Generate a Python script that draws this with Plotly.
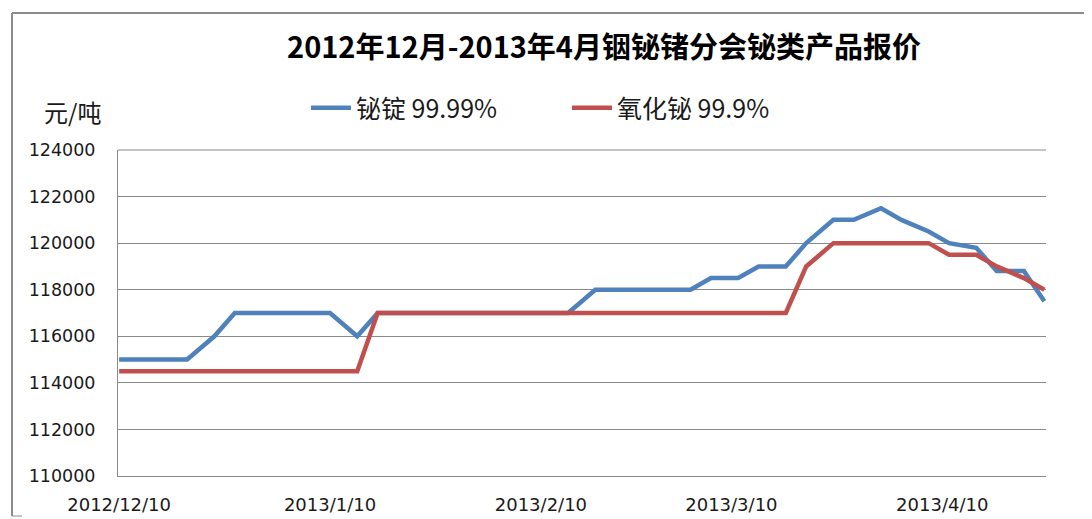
import plotly.graph_objects as go

dates = ["2012-12-10", "2012-12-13", "2012-12-17", "2012-12-20", "2012-12-24", "2012-12-27",
         "2012-12-31", "2013-01-03", "2013-01-07", "2013-01-10", "2013-01-14", "2013-01-17",
         "2013-01-21", "2013-01-24", "2013-01-28", "2013-01-31", "2013-02-04", "2013-02-07",
         "2013-02-11", "2013-02-14", "2013-02-18", "2013-02-21", "2013-02-25", "2013-02-28",
         "2013-03-04", "2013-03-07", "2013-03-11", "2013-03-14", "2013-03-18", "2013-03-21",
         "2013-03-25", "2013-03-28", "2013-04-01", "2013-04-04", "2013-04-08", "2013-04-11",
         "2013-04-15", "2013-04-18", "2013-04-22", "2013-04-25"]

bi_ingot = [115000, 115000, 115000, 115000, 116000, 117000,
            117000, 117000, 117000, 117000, 116000, 117000,
            117000, 117000, 117000, 117000, 117000, 117000,
            117000, 117000, 118000, 118000, 118000, 118000,
            118000, 118500, 118500, 119000, 119000, 120000,
            121000, 121000, 121500, 121000, 120500, 120000,
            119800, 118800, 118800, 117500]

bi_oxide = [114500, 114500, 114500, 114500, 114500, 114500,
            114500, 114500, 114500, 114500, 114500, 117000,
            117000, 117000, 117000, 117000, 117000, 117000,
            117000, 117000, 117000, 117000, 117000, 117000,
            117000, 117000, 117000, 117000, 117000, 119000,
            120000, 120000, 120000, 120000, 120000, 119500,
            119500, 119000, 118500, 118000]

series_names = ["铋锭 99.99%", "氧化铋 99.9%"]
tick_dates = ["2012-12-10", "2013-01-10", "2013-02-10", "2013-03-10", "2013-04-10"]
tick_text = ["2012/12/10", "2013/1/10", "2013/2/10", "2013/3/10", "2013/4/10"]
y_ticks = [110000, 112000, 114000, 116000, 118000, 120000, 122000, 124000]

title_text = "2012年12月-2013年4月铟铋锗分会铋类产品报价"
unit_text = "元/吨"

BLUE = "#4F81BD"
RED = "#C0504D"
GRID = "#8a8a8a"
CJK = "Noto Sans CJK SC"
NUM = "DejaVu Sans"

# page body adds an 8px offset; work in screen coordinates and subtract it
OFF = 8
W, H = 1092 - OFF, 519 - OFF
SL, SR, ST, SB = 118, 1046, 150, 476  # plot area in screen pixels
L, T = SL - OFF, ST - OFF
R, B = W - (SR - OFF), H - (SB - OFF)
pw, ph = SR - SL, SB - ST


def px(x):
    return (x - SL) / pw


def py(y):
    return (SB - y) / ph


fig = go.Figure()
fig.add_trace(go.Scatter(x=dates, y=bi_ingot, mode="lines", name=series_names[0],
                         line=dict(color=BLUE, width=4.5)))
fig.add_trace(go.Scatter(x=dates, y=bi_oxide, mode="lines", name=series_names[1],
                         line=dict(color=RED, width=4.5)))

fig.update_layout(
    width=W, height=H,
    margin=dict(l=L, r=R, t=T, b=B, autoexpand=False),
    paper_bgcolor="white", plot_bgcolor="white",
    title=dict(text="<b>" + title_text + "</b>", x=(604 - OFF) / W, xanchor="center",
               y=1 - (48 - OFF) / H, yanchor="middle",
               font=dict(family=CJK, size=29, color="#000000")),
    legend=dict(orientation="h", x=px(306), xanchor="left", y=py(108), yanchor="middle",
                font=dict(family=CJK, size=25, color="#1a1a1a"),
                entrywidth=206, itemwidth=40, bgcolor="rgba(0,0,0,0)"),
    xaxis=dict(type="date", range=["2012-12-09 20:00", "2013-04-25 06:00"],
               tickvals=tick_dates, ticktext=tick_text, showgrid=False,
               showline=True, linecolor=GRID, linewidth=1, automargin=False,
               ticks="", ticklabelstandoff=12,
               tickfont=dict(family=NUM, size=18, color="#1a1a1a")),
    yaxis=dict(range=[110000, 124000], tickvals=y_ticks, tickformat="d",
               showgrid=True, gridcolor=GRID, gridwidth=1,
               showline=True, linecolor=GRID, linewidth=1, automargin=False,
               ticks="", ticklabelstandoff=18, zeroline=False,
               tickfont=dict(family=NUM, size=17.5, color="#1a1a1a")),
    annotations=[dict(text=unit_text, xref="paper", yref="paper", x=px(72), y=py(111),
                      xanchor="center", yanchor="middle", showarrow=False,
                      font=dict(family=CJK, size=24, color="#1a1a1a"))],
    shapes=[
        dict(type="line", xref="paper", yref="paper", x0=px(12), x1=px(1100), y0=py(13), y1=py(13),
             line=dict(color="#8c8c8c", width=2)),
        dict(type="line", xref="paper", yref="paper", x0=px(12), x1=px(12), y0=py(13), y1=py(516),
             line=dict(color="#8c8c8c", width=2)),
        dict(type="line", xref="paper", yref="paper", x0=px(12), x1=px(22), y0=py(516), y1=py(516),
             line=dict(color="#8c8c8c", width=1)),
        dict(type="line", xref="paper", yref="paper", x0=0, x1=1, y0=1, y1=1,
             line=dict(color=GRID, width=1)),
    ],
)

fig.write_html("out.html")
